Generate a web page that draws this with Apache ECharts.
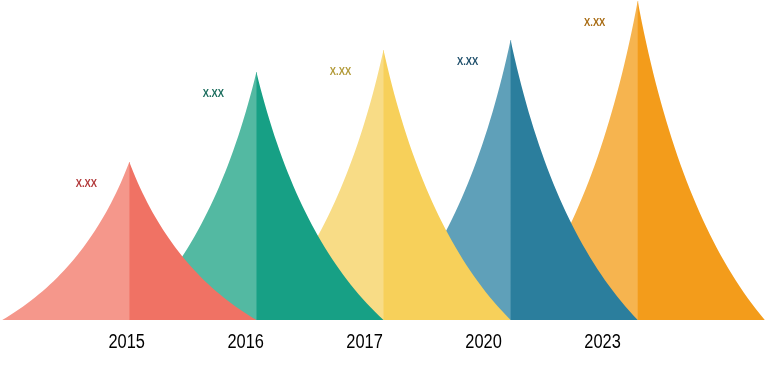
<!DOCTYPE html>
<html>
<head>
<meta charset="utf-8">
<script src="https://cdn.jsdelivr.net/npm/echarts@6/dist/echarts.min.js"></script>
<style>
html,body{margin:0;padding:0;background:#fff;}
#chart{width:768px;height:378px;}
</style>
</head>
<body>
<div id="chart"></div>
<script>
const categories = ['2015', '2016', '2017', '2020', '2023'];
const values = [158, 248, 270, 280, 319];
const valueLabels = ['X.XX', 'X.XX', 'X.XX', 'X.XX', 'X.XX'];
const lightColors = ['#F5978B', '#53B9A2', '#F8DC86', '#5FA0B9', '#F6B44F'];
const darkColors = ['#F07264', '#17A085', '#F7D05A', '#2B7E9D', '#F39C1B'];
const labelColors = ['#B23A3B', '#1C6E5E', '#B39B3A', '#1F4F6B', '#A86B12'];

const CURVE = 0.32;
const STEPS = 40;

function renderPeak(params, api) {
  const i = params.dataIndex;
  const top = api.coord([api.value(0), api.value(1)]);
  const base = api.coord([api.value(0), 0]);
  const hw = api.size([1, 0])[0];
  const H = base[1] - top[1];
  function edge(sign) {
    const pts = [];
    for (let k = 0; k <= STEPS; k++) {
      const t = k / STEPS;
      const u = 2 * t * (1 - t) * CURVE + t * t;
      const h = (1 - t) * (1 - t) + 2 * t * (1 - t) * CURVE;
      pts.push([top[0] + sign * u * hw, base[1] - h * H]);
    }
    return pts;
  }
  const leftPts = edge(-1);
  leftPts.push([top[0] + 0.5, base[1]]);
  leftPts.push([top[0] + 0.5, top[1]]);
  const rightPts = edge(1);
  rightPts.push([top[0], base[1]]);
  rightPts.push([top[0], top[1]]);
  const z = 100 - i * 10;
  return {
    type: 'group',
    children: [
      { type: 'polygon', z2: z, shape: { points: leftPts }, style: { fill: lightColors[i] } },
      { type: 'polygon', z2: z + 1, shape: { points: rightPts }, style: { fill: darkColors[i] } },
      {
        type: 'text', z2: 200,
        x: top[0] - 43, y: top[1] + 22,
        scaleX: 0.85,
        style: {
          text: valueLabels[i],
          x: 0, y: 0,
          align: 'center', verticalAlign: 'middle',
          fill: labelColors[i],
          font: 'bold 11px "Liberation Sans", sans-serif'
        }
      }
    ]
  };
}

function renderYear(params, api) {
  const p = api.coord([api.value(0), 0]);
  return {
    type: 'text',
    x: p[0], y: p[1] + 22,
    scaleX: 0.82,
    style: {
      text: categories[params.dataIndex],
      x: 0, y: 0,
      align: 'center', verticalAlign: 'middle',
      fill: '#000',
      font: '20px "Liberation Sans", sans-serif'
    }
  };
}

const chart = echarts.init(document.getElementById('chart'), null, { renderer: 'canvas' });
chart.setOption({
  animation: false,
  grid: [
    { left: 65.75, width: 635.5, top: 0, height: 320 },
    { left: 67.2, width: 594.8, top: 0, height: 320 }
  ],
  xAxis: [
    { type: 'category', gridIndex: 0, data: categories, show: false },
    { type: 'category', gridIndex: 1, data: categories, show: false }
  ],
  yAxis: [
    { type: 'value', gridIndex: 0, min: 0, max: 320, show: false },
    { type: 'value', gridIndex: 1, min: 0, max: 320, show: false }
  ],
  series: [
    {
      type: 'custom',
      xAxisIndex: 0, yAxisIndex: 0,
      renderItem: renderPeak,
      data: categories.map((c, i) => [i, values[i]])
    },
    {
      type: 'custom',
      xAxisIndex: 1, yAxisIndex: 1,
      renderItem: renderYear,
      data: categories.map((c, i) => [i, 0])
    }
  ]
});
</script>
</body>
</html>
